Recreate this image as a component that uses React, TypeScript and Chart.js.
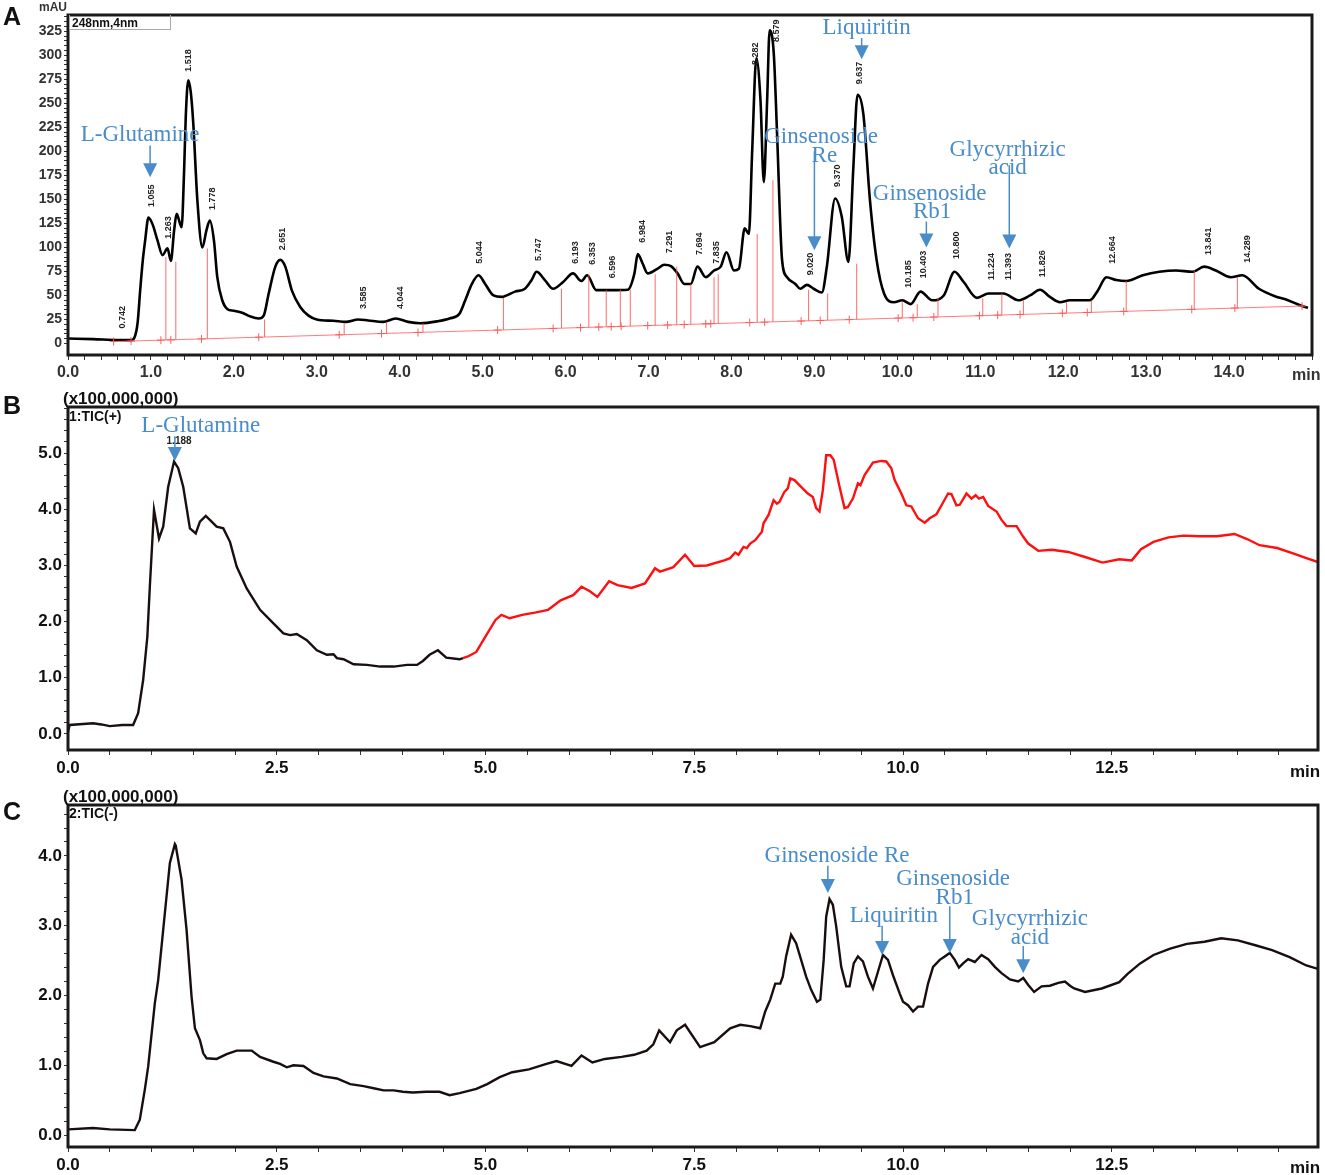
import React, { useEffect, useRef } from 'react';
import { Chart, registerables } from 'chart.js';
Chart.register(...registerables);

// ---------- Panel A: UV chromatogram (248 nm) ----------
const aTimes = [0.0, 0.3, 0.6, 0.76, 0.8, 0.84, 0.87, 0.9, 0.93, 0.97, 1.02, 1.08, 1.14, 1.2, 1.24, 1.28, 1.31, 1.35, 1.37, 1.4, 1.42, 1.45, 1.48, 1.51, 1.56, 1.62, 1.67, 1.71, 1.76, 1.8, 1.86, 1.92, 2.0, 2.1, 2.2, 2.3, 2.36, 2.42, 2.5, 2.56, 2.62, 2.7, 2.8, 2.9, 3.0, 3.2, 3.35, 3.5, 3.62, 3.8, 3.95, 4.1, 4.25, 4.45, 4.6, 4.72, 4.79, 4.87, 4.95, 5.03, 5.13, 5.23, 5.39, 5.51, 5.59, 5.65, 5.75, 5.85, 5.97, 6.09, 6.19, 6.26, 6.37, 6.55, 6.75, 6.83, 6.87, 6.93, 6.99, 7.11, 7.19, 7.27, 7.35, 7.43, 7.51, 7.59, 7.69, 7.79, 7.87, 7.94, 8.03, 8.09, 8.16, 8.21, 8.25, 8.3, 8.35, 8.39, 8.43, 8.46, 8.51, 8.55, 8.61, 8.67, 8.77, 8.83, 8.91, 8.99, 9.09, 9.15, 9.25, 9.33, 9.41, 9.47, 9.52, 9.59, 9.67, 9.75, 9.84, 9.96, 10.06, 10.16, 10.28, 10.42, 10.56, 10.69, 10.8, 10.96, 11.1, 11.28, 11.46, 11.6, 11.72, 11.84, 11.96, 12.08, 12.32, 12.42, 12.52, 12.64, 12.76, 12.96, 13.16, 13.36, 13.56, 13.7, 13.84, 14.02, 14.16, 14.36, 14.56, 14.68, 14.88, 14.95];
const aValues = [5.2, 4.5, 3.6, 3.5, 6, 22, 55, 85, 107, 131, 124, 107, 92, 99, 86, 118, 135, 125, 121, 180, 236, 274, 262, 230, 149, 100, 118, 128, 107, 69, 45, 36, 34, 32, 28, 26, 29, 52, 80, 87, 80, 55, 38, 29, 25, 23.6, 22.5, 25, 24, 22.5, 26, 22.5, 21, 23, 26, 31, 45, 62, 71, 62, 50, 48.5, 54, 57, 66, 74.6, 66, 57, 64, 73, 65, 71, 55.5, 55.5, 56, 73, 93, 83, 73, 78, 82, 80.5, 73, 62, 62, 80, 69, 76, 80, 95, 76, 78, 120, 114, 201, 297, 253, 168, 253, 326, 302, 218, 87, 69, 62, 57, 61, 57, 53, 80, 151, 132, 85, 184, 259, 239, 149, 87, 52, 43, 45, 41, 54, 45, 50, 74.6, 64, 47.5, 52, 52, 45, 50, 56, 48.5, 43, 45, 45, 55.5, 69, 66, 65, 71, 74.6, 76, 74.6, 80, 76, 69, 71, 57, 49, 46, 39, 37];
const aBaselineTimes = [0.55, 14.9];
const aBaselineValues = [2, 39];
const aDropTimes = [1.18, 1.3, 1.68, 2.37, 3.33, 3.84, 4.28, 5.25, 5.95, 6.28, 6.49, 6.66, 6.78, 7.08, 7.34, 7.51, 7.79, 7.84, 8.31, 8.5, 8.93, 9.16, 9.51, 10.06, 10.24, 10.49, 11.03, 11.26, 11.52, 12.04, 12.34, 12.76, 13.58, 14.1];
const aDropTops = [90, 85, 99, 25, 21.5, 22.5, 21, 47.5, 57, 72, 55.5, 56, 56, 72, 80, 62, 69, 72, 114, 170, 56, 52, 83, 43, 41, 47.5, 47, 52, 45, 43, 45, 65, 76, 69];
const aCrossTimes = [0.55, 0.76, 1.12, 1.24, 1.61, 2.3, 3.27, 3.78, 4.22, 5.18, 5.85, 6.18, 6.4, 6.55, 6.67, 6.99, 7.23, 7.43, 7.69, 7.75, 8.22, 8.4, 8.84, 9.07, 9.42, 10.01, 10.19, 10.44, 10.99, 11.21, 11.48, 11.99, 12.29, 12.73, 13.55, 14.07, 14.88];
const aPeakLabels = ['0.742', '1.055', '1.263', '1.518', '1.778', '2.651', '3.585', '4.044', '5.044', '5.747', '6.193', '6.353', '6.596', '6.984', '7.291', '7.694', '7.835', '8.282', '8.579', '9.020', '9.370', '9.637', '10.185', '10.403', '10.800', '11.224', '11.393', '11.826', '12.664', '13.841', '14.289'];
const aPeakLabelTimes = [0.66, 1.01, 1.21, 1.45, 1.74, 2.59, 3.56, 4.01, 4.96, 5.67, 6.12, 6.32, 6.56, 6.93, 7.25, 7.61, 7.82, 8.29, 8.54, 8.95, 9.28, 9.54, 10.13, 10.32, 10.71, 11.14, 11.34, 11.75, 12.59, 13.75, 14.22];
const aPeakLabelBases = [15.6, 142, 109, 283, 139, 97, 36, 36, 83, 86, 83, 82, 68, 105, 94, 92, 83, 290, 314, 71, 163, 270, 58, 68, 88, 66, 66, 69, 83, 92, 84];
const aNoteText = ['L-Glutamine', 'Liquiritin', 'Ginsenoside', 'Re', 'Ginsenoside', 'Rb1', 'Glycyrrhizic', 'acid'];
const aNoteT = [0.87, 9.63, 9.08, 9.12, 10.39, 10.42, 11.33, 11.33];
const aNoteV = [217, 328, 215, 195, 156, 137, 202, 183];
const aArrowT = [0.99, 9.57, 9.0, 10.35, 11.35];
const aArrowFrom = [206, 318, 200, 127, 186];
const aArrowTo = [173, 296, 97, 100, 99];

// ---------- Panel B: TIC(+) ----------
const bTimes = [0.0, 0.02, 0.3, 0.4, 0.5, 0.65, 0.78, 0.84, 0.9, 0.95, 0.98, 1.03, 1.09, 1.14, 1.2, 1.27, 1.32, 1.38, 1.46, 1.53, 1.58, 1.65, 1.72, 1.78, 1.86, 1.94, 2.02, 2.14, 2.3, 2.46, 2.58, 2.66, 2.74, 2.86, 2.98, 3.1, 3.18, 3.22, 3.3, 3.42, 3.58, 3.74, 3.9, 4.06, 4.18, 4.25, 4.33, 4.43, 4.53, 4.69, 4.73, 4.79, 4.89, 4.99, 5.12, 5.19, 5.29, 5.44, 5.59, 5.75, 5.9, 6.05, 6.15, 6.25, 6.34, 6.48, 6.58, 6.75, 6.91, 7.03, 7.09, 7.25, 7.39, 7.5, 7.65, 7.86, 7.93, 7.99, 8.03, 8.09, 8.13, 8.17, 8.23, 8.31, 8.33, 8.39, 8.45, 8.49, 8.52, 8.58, 8.62, 8.65, 8.7, 8.78, 8.86, 8.92, 8.96, 9.0, 9.04, 9.08, 9.13, 9.17, 9.24, 9.3, 9.34, 9.4, 9.46, 9.49, 9.54, 9.64, 9.74, 9.8, 9.86, 9.9, 9.98, 10.04, 10.1, 10.18, 10.26, 10.32, 10.4, 10.48, 10.54, 10.58, 10.64, 10.68, 10.76, 10.82, 10.87, 10.91, 10.96, 11.02, 11.12, 11.18, 11.24, 11.36, 11.44, 11.5, 11.62, 11.78, 11.98, 12.18, 12.39, 12.59, 12.74, 12.85, 13.0, 13.18, 13.36, 13.56, 13.76, 13.97, 14.12, 14.27, 14.48, 14.68, 14.83, 14.97];
const bValues = [0.04, 0.16, 0.19, 0.17, 0.14, 0.16, 0.16, 0.37, 0.96, 1.73, 2.62, 3.99, 3.48, 3.69, 4.4, 4.85, 4.73, 4.4, 3.66, 3.57, 3.78, 3.88, 3.78, 3.69, 3.66, 3.42, 2.98, 2.59, 2.21, 1.97, 1.79, 1.76, 1.78, 1.67, 1.49, 1.41, 1.42, 1.35, 1.33, 1.24, 1.23, 1.2, 1.2, 1.23, 1.23, 1.3, 1.41, 1.49, 1.36, 1.33, 1.35, 1.38, 1.46, 1.71, 2.03, 2.12, 2.06, 2.12, 2.16, 2.21, 2.38, 2.47, 2.62, 2.54, 2.44, 2.72, 2.65, 2.6, 2.68, 2.95, 2.89, 2.97, 3.19, 2.99, 3.0, 3.09, 3.13, 3.23, 3.19, 3.33, 3.31, 3.39, 3.45, 3.6, 3.75, 3.9, 4.16, 4.1, 4.13, 4.31, 4.37, 4.55, 4.52, 4.4, 4.28, 4.22, 4.02, 3.96, 4.34, 4.96, 4.96, 4.88, 4.4, 4.02, 4.04, 4.19, 4.46, 4.43, 4.61, 4.83, 4.86, 4.85, 4.73, 4.52, 4.28, 4.07, 4.05, 3.84, 3.76, 3.84, 3.91, 4.12, 4.28, 4.27, 4.07, 4.08, 4.28, 4.19, 4.25, 4.19, 4.22, 4.06, 3.96, 3.81, 3.7, 3.7, 3.51, 3.39, 3.26, 3.28, 3.24, 3.15, 3.05, 3.11, 3.09, 3.29, 3.42, 3.5, 3.53, 3.52, 3.52, 3.56, 3.47, 3.36, 3.31, 3.21, 3.13, 3.06];
const bRedFrom = 4.73;
const bNoteText = ['L-Glutamine'];
const bNoteT = [1.59];
const bNoteV = [5.48];
const bPeakText = ['1.188'];
const bPeakT = [1.33];
const bPeakV = [5.21];
const bArrowT = [1.28];
const bArrowFrom = [5.3];
const bArrowTo = [4.86];

// ---------- Panel C: TIC(-) ----------
const cTimes = [0.0, 0.3, 0.5, 0.8, 0.86, 0.92, 0.96, 1.04, 1.08, 1.14, 1.22, 1.28, 1.29, 1.36, 1.42, 1.48, 1.52, 1.58, 1.62, 1.66, 1.78, 1.9, 2.02, 2.2, 2.3, 2.46, 2.54, 2.62, 2.7, 2.82, 2.94, 3.06, 3.22, 3.38, 3.54, 3.66, 3.78, 3.9, 4.01, 4.13, 4.29, 4.45, 4.57, 4.69, 4.89, 5.02, 5.17, 5.32, 5.52, 5.73, 5.85, 6.03, 6.15, 6.28, 6.43, 6.63, 6.78, 6.93, 7.01, 7.08, 7.21, 7.29, 7.39, 7.57, 7.74, 7.93, 8.05, 8.17, 8.29, 8.35, 8.41, 8.47, 8.53, 8.56, 8.6, 8.66, 8.72, 8.78, 8.84, 8.9, 8.97, 9.01, 9.05, 9.08, 9.12, 9.16, 9.2, 9.26, 9.32, 9.36, 9.41, 9.46, 9.52, 9.58, 9.64, 9.7, 9.76, 9.82, 9.88, 9.96, 10.0, 10.06, 10.12, 10.18, 10.24, 10.3, 10.36, 10.44, 10.5, 10.56, 10.62, 10.67, 10.72, 10.78, 10.86, 10.94, 11.02, 11.1, 11.18, 11.28, 11.38, 11.44, 11.5, 11.57, 11.66, 11.76, 11.86, 11.94, 12.0, 12.05, 12.18, 12.38, 12.59, 12.69, 12.84, 13.0, 13.2, 13.4, 13.61, 13.81, 14.01, 14.22, 14.42, 14.63, 14.83, 14.97];
const cValues = [0.08, 0.1, 0.08, 0.07, 0.22, 0.65, 0.98, 1.89, 2.22, 2.94, 3.9, 4.17, 4.15, 3.66, 2.94, 1.98, 1.53, 1.36, 1.17, 1.1, 1.09, 1.16, 1.21, 1.21, 1.12, 1.05, 1.02, 0.97, 1.0, 0.99, 0.89, 0.84, 0.81, 0.73, 0.7, 0.67, 0.64, 0.64, 0.62, 0.61, 0.62, 0.62, 0.57, 0.6, 0.66, 0.73, 0.83, 0.9, 0.94, 1.02, 1.06, 0.99, 1.14, 1.04, 1.09, 1.12, 1.15, 1.21, 1.3, 1.5, 1.33, 1.5, 1.58, 1.26, 1.33, 1.53, 1.58, 1.56, 1.53, 1.77, 1.94, 2.17, 2.17, 2.27, 2.56, 2.87, 2.75, 2.51, 2.27, 2.08, 1.91, 1.94, 2.51, 3.13, 3.38, 3.3, 2.99, 2.41, 2.13, 2.13, 2.46, 2.56, 2.49, 2.27, 2.1, 2.34, 2.58, 2.51, 2.29, 2.03, 1.91, 1.86, 1.77, 1.84, 1.84, 2.17, 2.41, 2.51, 2.56, 2.61, 2.51, 2.4, 2.46, 2.52, 2.48, 2.58, 2.52, 2.41, 2.32, 2.23, 2.2, 2.25, 2.15, 2.05, 2.13, 2.14, 2.18, 2.2, 2.14, 2.1, 2.05, 2.1, 2.19, 2.31, 2.46, 2.58, 2.67, 2.74, 2.77, 2.82, 2.79, 2.72, 2.65, 2.55, 2.43, 2.38];
const cNoteText = ['Ginsenoside Re', 'Ginsenoside', 'Rb1', 'Liquiritin', 'Glycyrrhizic', 'acid'];
const cNoteT = [9.21, 10.6, 10.62, 9.89, 11.52, 11.52];
const cNoteV = [4.0, 3.67, 3.4, 3.14, 3.1, 2.83];
const cArrowT = [9.1, 10.56, 9.75, 11.44];
const cArrowFrom = [3.86, 3.28, 3.0, 2.71];
const cArrowTo = [3.47, 2.61, 2.58, 2.32];

const SANS = '"Liberation Sans", Arial, sans-serif';
const SERIF = '"Liberation Serif", "Times New Roman", serif';
const NOTE = '#4a8cca';

const xy = (ts: number[], vs: number[]) => ts.map((t, i) => ({ x: t, y: vs[i] }));
const seq = (min: number, max: number, step: number) => {
  const out: { value: number }[] = [];
  const n = Math.floor((max - min) / step + 1e-6);
  for (let i = 0; i <= n; i++) out.push({ value: Math.round((min + i * step) * 1000) / 1000 });
  return out;
};
const isMult = (v: number, s: number) => Math.abs(v / s - Math.round(v / s)) < 1e-6;
const baselineAt = (t: number) =>
  aBaselineValues[0] + ((t - aBaselineTimes[0]) * (aBaselineValues[1] - aBaselineValues[0])) / (aBaselineTimes[1] - aBaselineTimes[0]);

type Spec = {
  datasets: any[];
  xMax: number; yMin: number; yMax: number;
  xStep: number; xLabelStep: number; xLabelMax: number;
  yTickMax: number; yStep: number; yLabelStep: number; yLabelMax: number; yDec: number;
  xFont: number; yFont: number; tickColor: string;
  padTop: number; padRight: number; yWidth: number; xHeight: number;
  decor: (chart: any) => void;
};

function drawArrow(ctx: CanvasRenderingContext2D, x: number, y1: number, y2: number) {
  const head = 14;
  ctx.save();
  ctx.strokeStyle = NOTE;
  ctx.fillStyle = NOTE;
  ctx.lineWidth = 1.5;
  ctx.beginPath();
  ctx.moveTo(x, y1);
  ctx.lineTo(x, y2 - head + 1);
  ctx.stroke();
  ctx.beginPath();
  ctx.moveTo(x - 7, y2 - head);
  ctx.lineTo(x + 7, y2 - head);
  ctx.lineTo(x, y2);
  ctx.closePath();
  ctx.fill();
  ctx.restore();
}

function drawNotes(chart: any, texts: string[], ts: number[], vs: number[], at: number[], af: number[], ato: number[]) {
  const { ctx, scales } = chart;
  const x = scales.x, y = scales.y;
  for (let i = 0; i < at.length; i++) drawArrow(ctx, x.getPixelForValue(at[i]), y.getPixelForValue(af[i]), y.getPixelForValue(ato[i]));
  ctx.save();
  ctx.font = `23px ${SERIF}`;
  ctx.fillStyle = NOTE;
  ctx.textAlign = 'center';
  ctx.textBaseline = 'middle';
  texts.forEach((s, i) => ctx.fillText(s, x.getPixelForValue(ts[i]), y.getPixelForValue(vs[i])));
  ctx.restore();
}

function drawFrame(chart: any) {
  const { ctx, chartArea: a } = chart;
  ctx.save();
  ctx.strokeStyle = '#1a1a1a';
  ctx.lineWidth = 3;
  ctx.strokeRect(a.left, a.top, a.right - a.left, a.bottom - a.top);
  ctx.restore();
}

function makeChart(canvas: HTMLCanvasElement, s: Spec) {
  return new Chart(canvas, {
    type: 'line',
    data: { datasets: s.datasets },
    options: {
      animation: false,
      responsive: true,
      maintainAspectRatio: false,
      events: [],
      layout: { padding: { top: s.padTop, right: s.padRight, left: 0, bottom: 0 } },
      plugins: { legend: { display: false }, tooltip: { enabled: false }, title: { display: false } },
      elements: { point: { radius: 0 } },
      scales: {
        x: {
          type: 'linear', min: 0, max: s.xMax,
          afterBuildTicks: (sc: any) => { sc.ticks = seq(0, s.xMax, s.xStep); },
          afterFit: (sc: any) => { sc.height = s.xHeight; },
          ticks: {
            autoSkip: false, maxRotation: 0, padding: 3, color: s.tickColor,
            font: { family: SANS, size: s.xFont, weight: 'bold' },
            callback: (v: any) => (isMult(v, s.xLabelStep) && v <= s.xLabelMax + 1e-6 ? Number(v).toFixed(1) : ''),
          },
          grid: { display: true, drawOnChartArea: false, drawTicks: true, tickLength: 5, tickColor: '#333', tickWidth: 1 },
          border: { display: false },
        },
        y: {
          type: 'linear', min: s.yMin, max: s.yMax,
          afterBuildTicks: (sc: any) => { sc.ticks = seq(0, s.yTickMax, s.yStep); },
          afterFit: (sc: any) => { sc.width = s.yWidth; },
          ticks: {
            autoSkip: false, padding: 2, color: s.tickColor,
            font: { family: SANS, size: s.yFont, weight: 'bold' },
            callback: (v: any) => (isMult(v, s.yLabelStep) && v <= s.yLabelMax + 1e-6 ? Number(v).toFixed(s.yDec) : ''),
          },
          grid: { display: true, drawOnChartArea: false, drawTicks: true, tickLength: 4, tickColor: '#333', tickWidth: 1 },
          border: { display: false },
        },
      },
    } as any,
    plugins: [{ id: 'decor', afterDatasetsDraw: (chart: any) => { drawFrame(chart); s.decor(chart); } }],
  });
}

const dropData = () => {
  const out: any[] = [];
  aDropTimes.forEach((t, i) => {
    out.push({ x: t, y: baselineAt(t) }, { x: t, y: aDropTops[i] }, { x: t, y: null });
  });
  return out;
};

const specA: Spec = {
  datasets: [
    { data: xy(aBaselineTimes, aBaselineValues), borderColor: 'rgba(255,90,90,0.8)', borderWidth: 1, pointRadius: 0 },
    { data: dropData(), borderColor: 'rgba(255,80,80,0.85)', borderWidth: 1, pointRadius: 0, spanGaps: false },
    { data: aCrossTimes.map((t) => ({ x: t, y: baselineAt(t) })), showLine: false, pointStyle: 'cross', pointRadius: 4, borderColor: 'rgba(255,80,80,0.9)', borderWidth: 1 },
    { data: xy(aTimes, aValues), borderColor: '#000', borderWidth: 2.6, pointRadius: 0, cubicInterpolationMode: 'monotone' },
  ],
  xMax: 15, yMin: -12, yMax: 342,
  xStep: 0.2, xLabelStep: 1, xLabelMax: 14,
  yTickMax: 340, yStep: 5, yLabelStep: 25, yLabelMax: 325, yDec: 0,
  xFont: 16, yFont: 14, tickColor: '#333',
  padTop: 15, padRight: 13, yWidth: 68, xHeight: 35,
  decor: (chart: any) => {
    const { ctx, scales } = chart;
    ctx.save();
    ctx.font = `bold 9px ${SANS}`;
    ctx.fillStyle = '#222';
    ctx.textAlign = 'left';
    ctx.textBaseline = 'middle';
    aPeakLabels.forEach((s, i) => {
      ctx.save();
      ctx.translate(scales.x.getPixelForValue(aPeakLabelTimes[i]), scales.y.getPixelForValue(aPeakLabelBases[i]));
      ctx.rotate(-Math.PI / 2);
      ctx.fillText(s, 0, 0);
      ctx.restore();
    });
    ctx.restore();
    drawNotes(chart, aNoteText, aNoteT, aNoteV, aArrowT, aArrowFrom, aArrowTo);
  },
};

const specB: Spec = {
  datasets: [
    {
      data: xy(bTimes, bValues), borderColor: '#1a0e0e', borderWidth: 2.4, pointRadius: 0, tension: 0,
      segment: { borderColor: (c: any) => (c.p0.parsed.x >= bRedFrom ? '#ff1010' : '#1a0e0e') },
    },
  ],
  xMax: 14.97, yMin: -0.285, yMax: 5.82,
  xStep: 0.5, xLabelStep: 2.5, xLabelMax: 12.5,
  yTickMax: 5.8, yStep: 0.2, yLabelStep: 1, yLabelMax: 5, yDec: 1,
  xFont: 17, yFont: 17, tickColor: '#111',
  padTop: 17, padRight: 7, yWidth: 68, xHeight: 35,
  decor: (chart: any) => {
    const { ctx, scales } = chart;
    drawNotes(chart, bNoteText, bNoteT, bNoteV, bArrowT, bArrowFrom, bArrowTo);
    ctx.save();
    ctx.font = `bold 10px ${SANS}`;
    ctx.fillStyle = '#222';
    ctx.textAlign = 'center';
    ctx.textBaseline = 'middle';
    bPeakText.forEach((s, i) => ctx.fillText(s, scales.x.getPixelForValue(bPeakT[i]), scales.y.getPixelForValue(bPeakV[i])));
    ctx.restore();
  },
};

const specC: Spec = {
  datasets: [{ data: xy(cTimes, cValues), borderColor: '#1a0d0d', borderWidth: 2.4, pointRadius: 0, tension: 0 }],
  xMax: 14.97, yMin: -0.172, yMax: 4.73,
  xStep: 0.5, xLabelStep: 2.5, xLabelMax: 12.5,
  yTickMax: 4.6, yStep: 0.2, yLabelStep: 1, yLabelMax: 4, yDec: 1,
  xFont: 17, yFont: 17, tickColor: '#111',
  padTop: 20, padRight: 7, yWidth: 68, xHeight: 28,
  decor: (chart: any) => drawNotes(chart, cNoteText, cNoteT, cNoteV, cArrowT, cArrowFrom, cArrowTo),
};

function Panel({ spec, top, height }: { spec: Spec; top: number; height: number }) {
  const ref = useRef<HTMLCanvasElement | null>(null);
  useEffect(() => {
    if (!ref.current) return;
    const ch = makeChart(ref.current, spec);
    return () => ch.destroy();
  }, [spec]);
  return (
    <div style={{ position: 'absolute', left: 0, top, width: 1325, height }}>
      <canvas ref={ref} />
    </div>
  );
}

const txt = (extra: React.CSSProperties): React.CSSProperties => ({
  position: 'absolute', fontFamily: SANS, fontWeight: 'bold', color: '#111', whiteSpace: 'nowrap', lineHeight: 1, ...extra,
});

export default function App() {
  return (
    <div style={{ position: 'absolute', left: 0, top: 0, width: 1325, height: 1175, background: '#fff', overflow: 'hidden' }}>
      <Panel spec={specA} top={0} height={390} />
      <Panel spec={specB} top={390} height={395} />
      <Panel spec={specC} top={785} height={390} />
      <div style={txt({ left: 3, top: 4, fontSize: 25 })}>A</div>
      <div style={txt({ left: 3, top: 393, fontSize: 25 })}>B</div>
      <div style={txt({ left: 3, top: 799, fontSize: 25 })}>C</div>
      <div style={txt({ left: 39, top: 1, fontSize: 12, color: '#333' })}>mAU</div>
      <div style={txt({ left: 69, top: 15, width: 102, height: 15, border: '1px solid #aaa', borderTop: 'none', fontSize: 12, paddingLeft: 2, paddingTop: 2, boxSizing: 'border-box' })}>248nm,4nm</div>
      <div style={txt({ left: 1292, top: 367, fontSize: 16, color: '#333' })}>min</div>
      <div style={txt({ left: 63, top: 390, fontSize: 17 })}>(x100,000,000)</div>
      <div style={txt({ left: 69, top: 409, fontSize: 14 })}>1:TIC(+)</div>
      <div style={txt({ left: 1290, top: 763, fontSize: 17 })}>min</div>
      <div style={txt({ left: 63, top: 788, fontSize: 17 })}>(x100,000,000)</div>
      <div style={txt({ left: 69, top: 806, fontSize: 14 })}>2:TIC(-)</div>
      <div style={txt({ left: 1290, top: 1159, fontSize: 17 })}>min</div>
    </div>
  );
}
